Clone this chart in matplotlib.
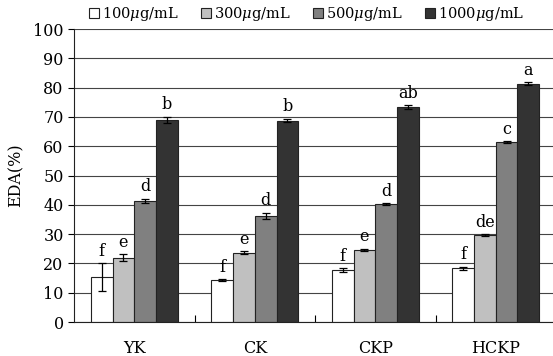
import numpy as np
import matplotlib
matplotlib.use("Agg")
import matplotlib.pyplot as plt

groups = ["YK", "CK", "CKP", "HCKP"]
series = ["100$\\mu$g/mL", "300$\\mu$g/mL", "500$\\mu$g/mL", "1000$\\mu$g/mL"]
vals_100 = [15.3, 14.3, 17.8, 18.3]
vals_300 = [22.0, 23.7, 24.7, 29.6]
vals_500 = [41.3, 36.3, 40.3, 61.4]
vals_1000 = [69.0, 68.7, 73.4, 81.4]
err_100 = [4.7, 0.3, 0.6, 0.6]
err_300 = [1.2, 0.5, 0.3, 0.4]
err_500 = [0.8, 1.0, 0.3, 0.3]
err_1000 = [1.0, 0.6, 0.6, 0.4]
let_100 = ["f", "f", "f", "f"]
let_300 = ["e", "e", "e", "de"]
let_500 = ["d", "d", "d", "c"]
let_1000 = ["b", "b", "ab", "a"]

colors = ["white", "#c0c0c0", "#808080", "#333333"]

plt.rcParams["font.family"] = ["DejaVu Serif"]
plt.rcParams["mathtext.fontset"] = "dejavuserif"

fig = plt.figure(figsize=(5.53, 3.56), dpi=100)
ax = fig.add_axes([0.134, 0.0955, 0.866, 0.823])

x = np.arange(len(groups))
w = 0.18
data = [(vals_100, err_100, let_100), (vals_300, err_300, let_300),
        (vals_500, err_500, let_500), (vals_1000, err_1000, let_1000)]
for i, (v, e, lets) in enumerate(data):
    pos = x + (i - 1.5) * w
    ax.bar(pos, v, w, color=colors[i], edgecolor="#222222", linewidth=0.8,
           label=series[i], zorder=2)
    ax.errorbar(pos, v, yerr=e, fmt="none", ecolor="black", elinewidth=0.9,
                capsize=3, capthick=0.9, zorder=3)
    for p, vv, ee, t in zip(pos, v, e, lets):
        ax.text(p, vv + ee + 1.2, t, ha="center", va="bottom", fontsize=11.5)

ax.set_ylim(0, 100)
ax.set_yticks(range(0, 101, 10))
ax.set_xlim(-0.5, 3.475)
ax.set_xticks(x)
ax.set_xticklabels(groups, fontsize=11.5)
ax.set_xticks([0.5, 1.5, 2.5], minor=True)
ax.tick_params(axis="x", which="major", length=0, pad=13)
ax.tick_params(axis="x", which="minor", direction="in", length=5, width=0.8)
ax.tick_params(axis="y", direction="out", length=4, labelsize=11.5)
ax.yaxis.grid(True, color="#444444", linewidth=0.8, zorder=0)
ax.set_axisbelow(True)
for s in ["top", "right"]:
    ax.spines[s].set_visible(False)
ax.spines["left"].set_color("#222222")
ax.spines["bottom"].set_color("#222222")
ax.set_ylabel("EDA(%)", fontsize=11.5, labelpad=6)

fig.legend(loc="upper left", bbox_to_anchor=(0.145, 1.01), ncol=4, frameon=False,
           fontsize=10.5, handlelength=0.7, handleheight=0.7, handletextpad=0.2,
           columnspacing=1.5, borderaxespad=0.2)

fig.savefig("out.png", dpi=100)
